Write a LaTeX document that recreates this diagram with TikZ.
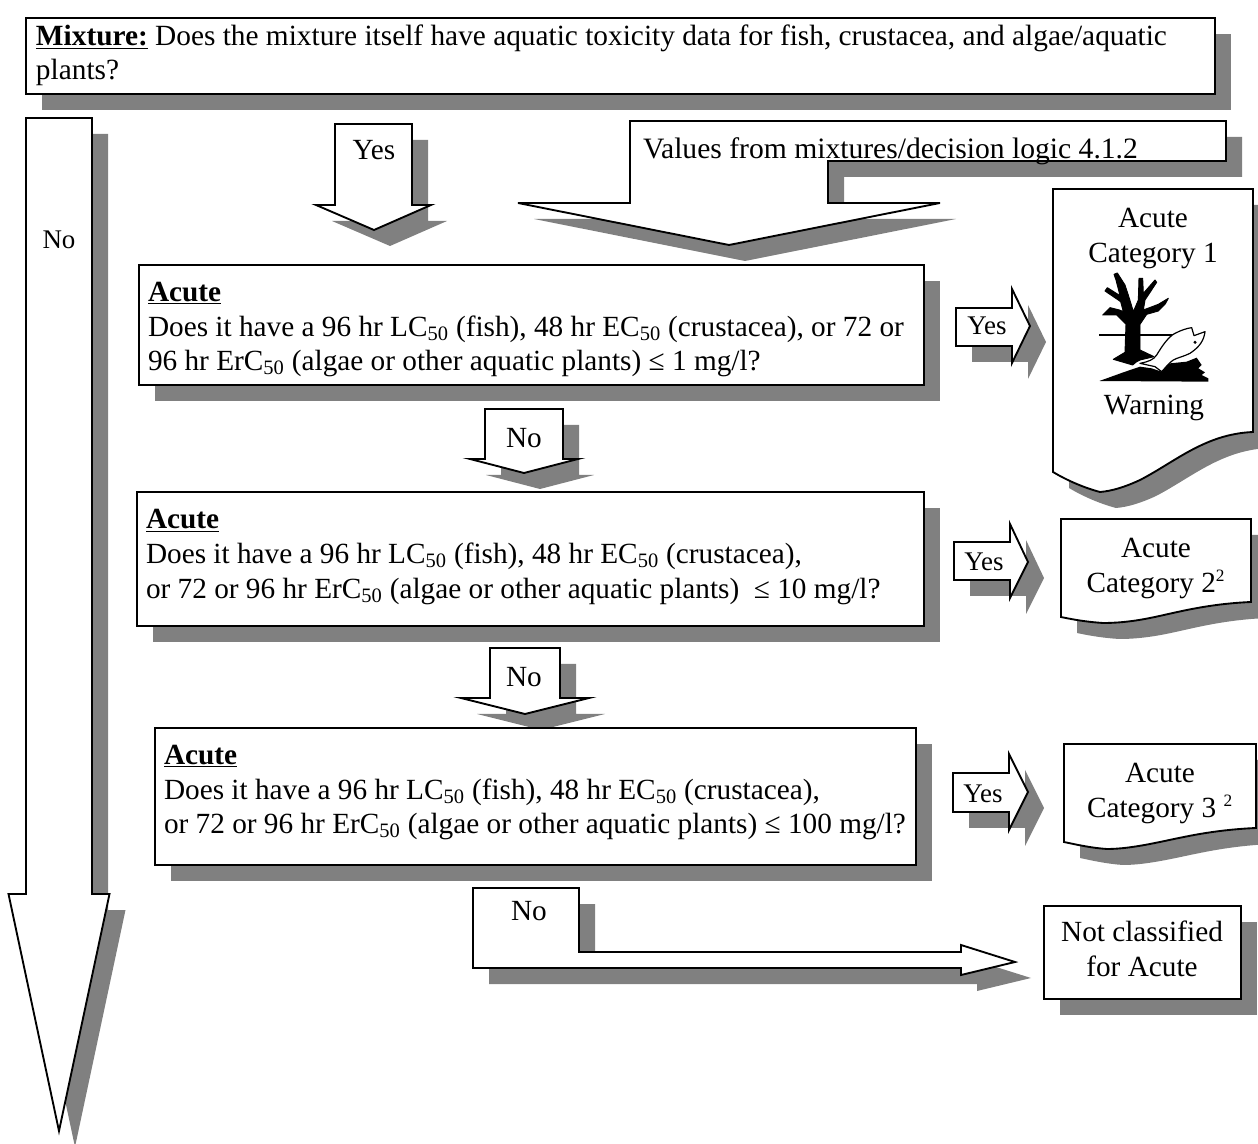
\documentclass[tikz,border=0pt]{standalone}
\usepackage{fontspec}
\setmainfont{Liberation Serif}
\definecolor{shadowc}{HTML}{808080}
\newcommand{\dropshape}[1]{\fill[shadowc,shift={(16,16)}] #1; \draw[figline] #1;}
\newcommand{\subf}{\textsubscript{50}}
\newcommand{\supf}{\textsuperscript{\fontsize{13}{13}\selectfont 2}}
\newcommand{\fs}{\rule{0pt}{15pt}}
\tikzset{
  figline/.style={draw=black,fill=white,line width=1.4pt,miter limit=10,line join=miter},
  txt/.style={inner sep=0pt,outer sep=0pt,font=\fontsize{21.95}{25.9}\selectfont},
  para/.style={txt,anchor=north west,align=left},
  ctr/.style={txt,anchor=north,align=center},
  lab/.style={txt,anchor=base},
  smalllab/.style={inner sep=0pt,anchor=base,font=\fontsize{20.2}{24}\selectfont},
}
\begin{document}
\begin{tikzpicture}[x=0.75pt,y=-0.75pt]
\useasboundingbox (0,0) rectangle (1258,1144);
% top box
\dropshape{(26,18) rectangle (1215,94)}
% left long arrow
\dropshape{(26,118) -- (92,118) -- (92,894) -- (109.5,894) -- (59,1131) -- (8.5,894) -- (26,894) -- cycle}
% yes arrow
\dropshape{(335,124) -- (412,124) -- (412,205) -- (431,205) -- (374,230) -- (316,205) -- (335,205) -- cycle}
% values arrow
\dropshape{(630,121) -- (1226,121) -- (1226,161) -- (828,161) -- (828,203) -- (940,203) -- (729,245) -- (518,203) -- (630,203) -- cycle}
% no arrows
\dropshape{(485,409) -- (563,409) -- (563,459) -- (578,459) -- (524,473) -- (470,459) -- (485,459) -- cycle}
\dropshape{(490,648) -- (560,648) -- (560,698) -- (589,698) -- (525,714) -- (461,698) -- (490,698) -- cycle}
\dropshape{(473,888) -- (579,888) -- (579,952) -- (961,952) -- (961,945) -- (1015,962) -- (961,975) -- (961,968) -- (473,968) -- cycle}
% yes arrows right
\dropshape{(956,308) -- (1012,308) -- (1012,289) -- (1030,326) -- (1012,363) -- (1012,346) -- (956,346) -- cycle}
\dropshape{(954,542) -- (1010,542) -- (1010,524) -- (1028,562) -- (1010,598) -- (1010,580) -- (954,580) -- cycle}
\dropshape{(953,773) -- (1009,773) -- (1009,754) -- (1028,792) -- (1009,830) -- (1009,812) -- (953,812) -- cycle}
% question boxes
\dropshape{(139,265) rectangle (924,385)}
\dropshape{(137,492) rectangle (924,626)}
\dropshape{(155,728) rectangle (916,865)}
% documents
\dropshape{(1053,189) -- (1253,189) -- (1253,432) .. controls (1205,434) and (1175,462) .. (1140,480) .. controls (1125,487) and (1112,491) .. (1100,492) .. controls (1085,488) and (1068,481) .. (1053,472) -- cycle}
\dropshape{(1061,519) -- (1251,519) -- (1251,602) .. controls (1205,604) and (1175,613) .. (1150,618) .. controls (1130,622) and (1115,623) .. (1103,623) .. controls (1088,622) and (1075,620) .. (1061,617) -- cycle}
\dropshape{(1064,744) -- (1256,744) -- (1256,828) .. controls (1210,830) and (1180,838) .. (1155,843) .. controls (1135,847) and (1120,849) .. (1107,849) .. controls (1092,848) and (1078,845) .. (1064,842) -- cycle}
\dropshape{(1044,906) rectangle (1241,999)}
% environment pictogram
\begin{scope}[shift={(1090,265)},x=0.25pt,y=-0.25pt]
  \draw[line width=1pt] (28,210) -- (255,210);
  \filldraw[line width=.7pt,line join=round] (128,300) -- (70,283) -- (105,262) -- (108,178) -- (80,150) -- (38,150) -- (60,128) -- (88,135) -- (100,140) -- (92,110) -- (45,78) -- (52,68) -- (90,92) -- (78,45) -- (72,28) -- (82,24) -- (105,60) -- (118,100) -- (130,140) -- (145,105) -- (147,40) -- (158,40) -- (160,85) -- (195,45) -- (200,52) -- (165,105) -- (160,135) -- (205,118) -- (235,100) -- (225,118) -- (205,138) -- (170,148) -- (150,178) -- (150,255) -- (192,275) -- (150,285) -- (140,290) -- cycle;
  \fill (28,348) -- (100,322) -- (150,305) -- (185,310) -- (215,320) -- (240,295) -- (290,290) -- (320,278) -- (335,300) -- (325,310) -- (345,322) -- (335,330) -- (355,340) -- (355,350) -- cycle;
  \draw[fill=white,line width=.9pt,line join=round] (150,295) .. controls (175,290) and (190,285) .. (200,270) .. controls (215,245) and (235,215) .. (255,205) .. controls (275,195) and (290,190) .. (305,188) -- (312,212) -- (345,200) .. controls (342,225) and (330,245) .. (300,265) .. controls (280,275) and (262,278) .. (250,285) .. controls (235,295) and (225,310) .. (215,320) -- (195,305) -- cycle;
  \fill (315,232) circle (5);
\end{scope}
% texts
\node[para,font=\fontsize{22}{25.5}\selectfont] (mix) at (36,25) {\fs\underline{\textbf{Mixture:}} Does the mixture itself have aquatic toxicity data for fish, crustacea, and algae/aquatic\\plants?};
\node[smalllab] (noLeft) at (59,249) {No};
\node[lab] (yesTop) at (374,160) {Yes};
\node[txt,anchor=base west,font=\fontsize{22.2}{25.9}\selectfont] (values) at (643,159) {Values from mixtures/decision logic 4.1.2};
\node[para] (q1) at (148,281.5) {\fs\underline{\textbf{Acute}}\\Does it have a 96 hr LC\subf{} (fish), 48 hr EC\subf{} (crustacea), or 72 or\\96 hr ErC\subf{} (algae or other aquatic plants) ≤ 1 mg/l?};
\node[para] (q2) at (146,509) {\fs\underline{\textbf{Acute}}\\Does it have a 96 hr LC\subf{} (fish), 48 hr EC\subf{} (crustacea),\\or 72 or 96 hr ErC\subf{} (algae or other aquatic plants) \ ≤ 10 mg/l?};
\node[para] (q3) at (164,744.5) {\fs\underline{\textbf{Acute}}\\Does it have a 96 hr LC\subf{} (fish), 48 hr EC\subf{} (crustacea),\\or 72 or 96 hr ErC\subf{} (algae or other aquatic plants) ≤ 100 mg/l?};
\node[smalllab] (yes1) at (987,335) {Yes};
\node[smalllab] (yes2) at (984,571) {Yes};
\node[smalllab] (yes3) at (983,802) {Yes};
\node[lab] (no1) at (524,448) {No};
\node[lab] (no2) at (524,687) {No};
\node[lab] (no3) at (529,920) {No};
\node[ctr] (cat1) at (1153,207.5) {\fs Acute\\Category 1};
\node[lab] (warn) at (1154,415) {Warning};
\node[ctr] (cat2) at (1156,537.5) {\fs Acute\\Category 2\supf};
\node[ctr] (cat3) at (1160,762.5) {\fs Acute\\Category 3 \supf};
\node[ctr] (notc) at (1142,921) {\fs Not classified\\for Acute};
\end{tikzpicture}
\end{document}
